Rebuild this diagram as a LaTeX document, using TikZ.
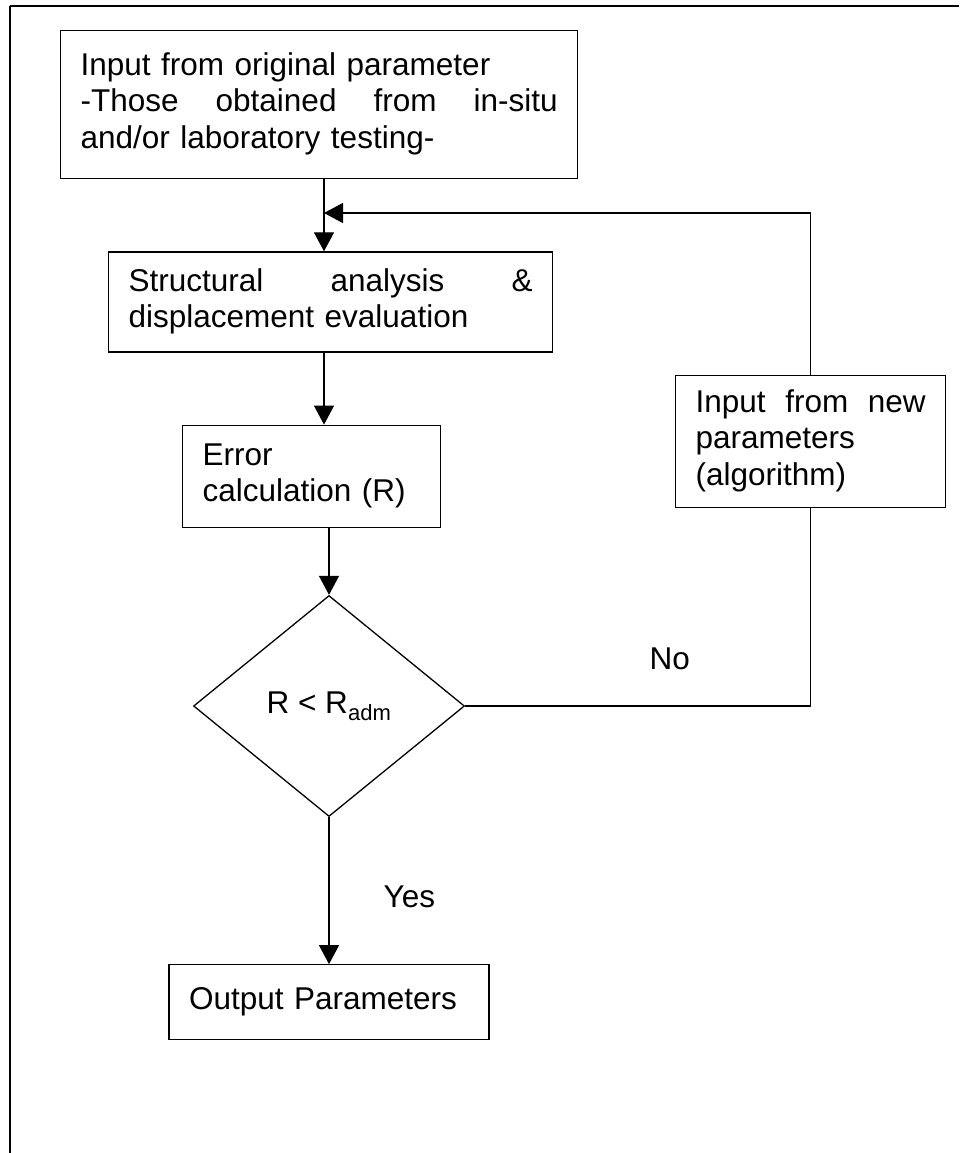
\documentclass[tikz,border=0pt]{standalone}
\usepackage{fontspec}
\setmainfont{Liberation Sans}
\usepackage{tikz}
\usetikzlibrary{shapes.geometric, arrows.meta, positioning}

\begin{document}
\begin{tikzpicture}[
    x=1pt, y=-1pt,
    font=\fontsize{31.5pt}{36.5pt}\selectfont,
    box/.style={rectangle, draw, line width=1.3pt, align=left, inner xsep=20pt, inner ysep=0pt,
        execute at begin node=\strut, execute at end node=\strut},
    decision/.style={diamond, draw, line width=1.3pt, minimum width=271pt, minimum height=221pt, inner sep=0pt},
    answer/.style={inner sep=0pt},
    arrow/.style={-{Triangle[length=19pt, width=20pt]}, line width=1.3pt},
    line/.style={line width=1.3pt}
]
\useasboundingbox (0,0) rectangle (959,1153);
% page frame
\draw[line width=2.2pt] (10,6) -- (959,6);
\draw[line width=1.5pt] (10,6) -- (10,1153);

\node[box, text width=477pt, minimum height=148pt, anchor=north west] (input) at (60,30)
    {Input from original parameter\\-Those\hfill obtained\hfill from\hfill in-situ\\and/or laboratory testing-};
\node[box, text width=404pt, minimum height=100pt, below=72pt of input.south west, anchor=north west, xshift=48pt] (struct)
    {Structural\hfill analysis\hfill \&\\displacement evaluation};
\node[box, text width=218pt, minimum height=102pt, below=72pt of struct.south west, anchor=north west, xshift=74pt] (error)
    {Error\\calculation (R)};
\node[decision] (check) at (329,706) {R < R\textsubscript{adm}};
\node[box, text width=280pt, minimum height=75pt, below=147pt of check.south] (output) {Output Parameters};
\node[box, text width=230pt, minimum height=132pt, anchor=north west] (newparam) at (675,375)
    {Input\hfill from\hfill new\\parameters\\(algorithm)};
\coordinate (join) at (324,213);

\draw[arrow] (input.south -| join) -- (struct.north -| join);
\draw[arrow] (newparam.north) |- (join);
\draw[arrow] (struct.south -| join) -- (error.north -| join);
\draw[arrow] (check.north |- error.south) -- (check.north);
\draw[line] (check.east) -| node[answer, pos=0.296, above=36pt] {No} (newparam.south);
\draw[arrow] (check.south) -- node[answer, pos=0.54, right=54pt] {Yes} (output.north);
\end{tikzpicture}
\end{document}
